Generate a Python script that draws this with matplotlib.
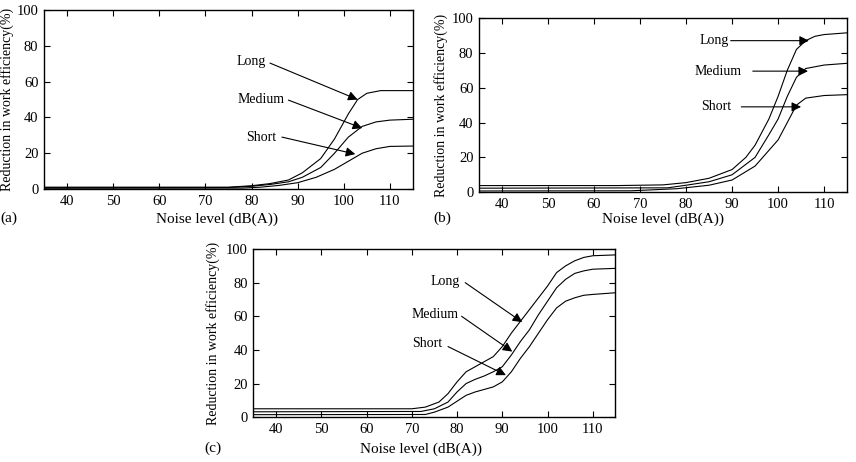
import matplotlib
matplotlib.use('Agg')
import matplotlib.pyplot as plt

plt.rcParams['font.family'] = ['Liberation Serif', 'DejaVu Serif']
plt.rcParams['font.size'] = 11

# panel (a)
a_long_x = [35, 75, 80, 84, 88, 91, 95, 98, 101, 103, 105, 108, 115]
a_long_y = [1.0, 1.0, 1.8, 3, 5, 9, 17, 28, 42, 50, 53.5, 55, 55]
a_med_x = [35, 75, 80, 84, 88, 91, 95, 98, 101, 104, 107, 110, 115]
a_med_y = [0.7, 0.8, 1.5, 2.5, 4, 6.5, 12, 20, 29, 35, 37.5, 38.5, 39]
a_short_x = [35, 78, 82, 86, 90, 94, 98, 101, 104, 107, 110, 115]
a_short_y = [0.4, 0.5, 1, 2, 3.5, 6.5, 11, 15.5, 20, 22.5, 23.8, 24]

# panel (b)
b_long_x = [35, 65, 75, 80, 85, 90, 93, 95, 98, 100, 102, 104, 106, 108, 110, 115]
b_long_y = [3.8, 3.8, 4.2, 5.5, 8, 13, 20, 27, 42, 55, 70, 82, 87, 89.5, 90.5, 91.5]
b_med_x = [35, 76, 80, 85, 90, 95, 98, 100, 102, 104, 106, 110, 115]
b_med_y = [2.3, 2.5, 4, 6, 10, 20, 33, 42, 55, 66, 71, 73, 74]
b_short_x = [35, 68, 78, 85, 90, 95, 98, 100, 102, 104, 106, 110, 115]
b_short_y = [0.7, 0.8, 2, 4, 7, 15, 24, 30, 40, 50, 54, 55.5, 56]

# panel (c)
c_long_x = [35, 70, 73, 76, 78, 80, 82, 84, 86, 88, 90, 92, 94, 96, 98, 100, 102, 104, 106, 108, 110, 115]
c_long_y = [5, 5, 6, 9, 14, 21, 27, 30, 33, 36, 42, 50, 57, 64, 71, 78, 86, 90, 93, 95, 96, 96.5]
c_med_x = [35, 72, 75, 78, 80, 82, 84, 86, 88, 90, 92, 94, 96, 98, 100, 102, 104, 106, 108, 110, 115]
c_med_y = [3.2, 3.4, 5, 9, 15, 20, 22.5, 24.5, 27, 30, 37, 45, 52, 61, 69, 77, 82, 85.5, 87, 88, 88.5]
c_short_x = [35, 73, 75, 78, 80, 82, 84, 86, 88, 90, 92, 94, 96, 98, 100, 102, 104, 106, 108, 110, 115]
c_short_y = [1.5, 1.6, 3, 6, 9.5, 13, 15, 16.5, 18, 21, 27, 35, 42, 50, 58, 65, 69, 71, 72.5, 73, 74]

labels = ['Long', 'Medium', 'Short']
# label text position, arrow tail, arrow tip (data coords)
a_notes = [((80, 71.5), (84, 70.4), (103, 50)),
           ((82, 50), (88, 49.7), (104, 34)),
           ((82, 29), (86.6, 29), (102.5, 19.5))]
b_notes = [((86, 87), (89.7, 87), (106.7, 87)),
           ((87, 69.5), (94.5, 69.5), (106.5, 69.5)),
           ((86.5, 49), (92, 49), (105, 49))]
c_notes = [((77.4, 80.6), (81.8, 80), (94.4, 56.5)),
           ((75.2, 61), (81, 60), (92.2, 39)),
           ((73.4, 44), (78, 42), (90.8, 25))]

fig = plt.figure(figsize=(8.56, 4.62), dpi=100)
ax_a = fig.add_axes([0.0514, 0.591, 0.431, 0.387])
ax_b = fig.add_axes([0.5596, 0.584, 0.430, 0.377])
ax_c = fig.add_axes([0.296, 0.097, 0.423, 0.364])


def draw_panel(ax, series, notes, xlab_pos, ylab_x):
    for xs, ys in series:
        ax.plot(xs, ys, color='black', lw=0.8)
    for lab, (tpos, tail, tip) in zip(labels, notes):
        ax.text(tpos[0], tpos[1], lab, ha='center', va='center', fontsize=10)
        ax.annotate('', xy=tip, xytext=tail,
                    arrowprops=dict(arrowstyle='-|>', color='black', lw=0.8,
                                    mutation_scale=14, shrinkA=0, shrinkB=0))
    ax.set_xlim(35, 115)
    ax.set_ylim(0, 100)
    ax.set_xticks(range(40, 111, 10))
    ax.set_yticks(range(0, 101, 20))
    ax.tick_params(direction='in', top=True, right=True, length=4, width=0.8,
                   labelsize=10.5, pad=4)
    for s in ax.spines.values():
        s.set_linewidth(1.0)
    ax.set_xlabel('Noise level (dB(A))', fontsize=11)
    ax.xaxis.set_label_coords(*xlab_pos)
    ax.set_ylabel('Reduction in work efficiency(%)', fontsize=10)
    ax.yaxis.set_label_coords(ylab_x, 0.5)


draw_panel(ax_a, [(a_long_x, a_long_y), (a_med_x, a_med_y), (a_short_x, a_short_y)],
           a_notes, (0.47, -0.13), -0.080)
draw_panel(ax_b, [(b_long_x, b_long_y), (b_med_x, b_med_y), (b_short_x, b_short_y)],
           b_notes, (0.5, -0.115), -0.084)
draw_panel(ax_c, [(c_long_x, c_long_y), (c_med_x, c_med_y), (c_short_x, c_short_y)],
           c_notes, (0.463, -0.15), -0.093)

fig.text(0.001, 0.528, '(a)', fontsize=11, va='center', ha='left')
fig.text(0.506, 0.528, '(b)', fontsize=11, va='center')
fig.text(0.239, 0.030, '(c)', fontsize=11, va='center')

fig.savefig('out.png', dpi=100)
